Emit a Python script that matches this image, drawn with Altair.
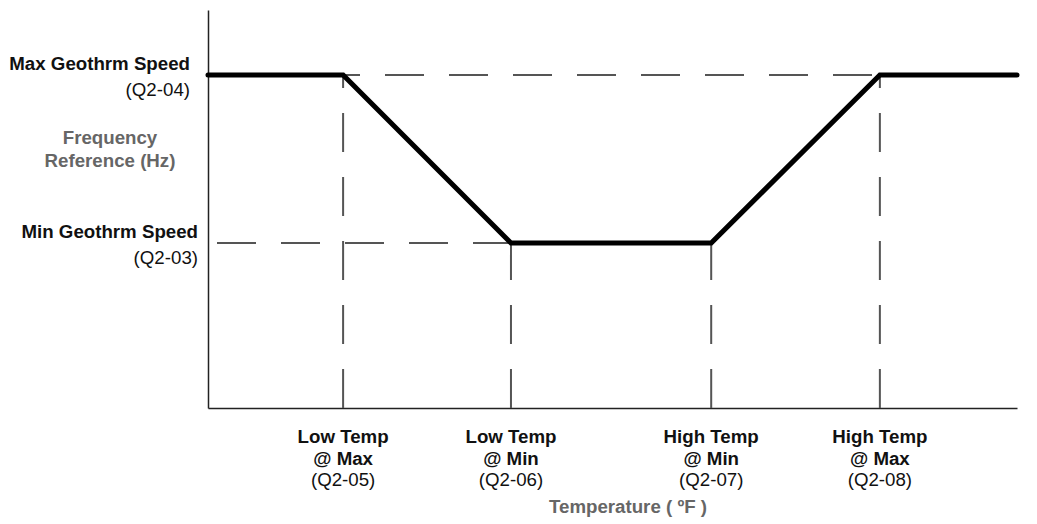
import altair as alt
import pandas as pd

# Temperature breakpoints (relative scale 0-100) and frequency levels (relative 0-100)
temp_points = [0, 16.7, 37.45, 62.2, 83.05, 100]
freq_points = [83.67, 83.67, 41.46, 41.46, 83.67, 83.67]
max_level = 83.67
min_level = 41.46
floor_level = 0

x_label_line1 = ["Low Temp", "Low Temp", "High Temp", "High Temp"]
x_label_line2 = ["@ Max", "@ Min", "@ Min", "@ Max"]
x_label_line3 = ["(Q2-05)", "(Q2-06)", "(Q2-07)", "(Q2-08)"]
x_label_pos = temp_points[1:5]
x_label_level = [max_level, min_level, min_level, max_level]

FONT = "Liberation Sans"
FS = 18.7
GRAY = "#666666"
DASH_COLOR = "#555555"

xs = alt.Scale(domain=[0, 100], nice=False, zero=False)
ys = alt.Scale(domain=[0, 100], nice=False, zero=False)

curve = pd.DataFrame({"t": temp_points, "f": freq_points, "o": list(range(len(temp_points)))})
labels = pd.DataFrame({"t": x_label_pos, "l1": x_label_line1, "l2": x_label_line2,
                       "l3": x_label_line3, "lvl": x_label_level,
                       "base": [floor_level] * len(x_label_pos)})

axis_x = alt.Axis(domain=True, ticks=False, labels=False, grid=False, title=None,
                  domainColor="#222222", domainWidth=1.5)
axis_y = alt.Axis(domain=True, ticks=False, labels=False, grid=False, title=None,
                  domainColor="#222222", domainWidth=1.5)

# vertical dashed guides
vguides = alt.Chart(labels).mark_rule(color=DASH_COLOR, strokeWidth=2, strokeDash=[39, 25]).encode(
    x=alt.X("t:Q", scale=xs, axis=axis_x),
    y=alt.Y("base:Q", scale=ys, axis=axis_y),
    y2="lvl:Q",
)

hmax = alt.Chart(pd.DataFrame({"a": [temp_points[0]], "b": [temp_points[4]], "lvl": [max_level]})).mark_rule(
    color=DASH_COLOR, strokeWidth=2, strokeDash=[39, 25], strokeDashOffset=15
).encode(
    x=alt.X("a:Q", scale=xs, axis=axis_x), x2="b:Q",
    y=alt.Y("lvl:Q", scale=ys, axis=axis_y),
)

hmin = alt.Chart(pd.DataFrame({"a": [temp_points[0]], "b": [temp_points[2]], "lvl": [min_level]})).mark_rule(
    color=DASH_COLOR, strokeWidth=2, strokeDash=[39, 25], strokeDashOffset=55
).encode(
    x=alt.X("a:Q", scale=xs, axis=axis_x), x2="b:Q",
    y=alt.Y("lvl:Q", scale=ys, axis=axis_y),
)

line = alt.Chart(curve).mark_line(color="#000000", strokeWidth=5, strokeCap="round",
                                  strokeJoin="miter").encode(
    x=alt.X("t:Q", scale=xs, axis=axis_x),
    y=alt.Y("f:Q", scale=ys, axis=axis_y),
    order="o:Q",
)


def xtext(field, ypx, bold):
    return alt.Chart(labels).mark_text(
        font=FONT, fontSize=FS, fontWeight="bold" if bold else "normal",
        color="#111111", align="center", baseline="alphabetic"
    ).encode(x=alt.X("t:Q", scale=xs, axis=axis_x), y=alt.value(ypx), text=f"{field}:N")


xt1 = xtext("l1", 433, True)
xt2 = xtext("l2", 455, True)
xt3 = xtext("l3", 476, False)

y_names = pd.DataFrame({"lvl": [max_level, min_level],
                        "name": ["Max Geothrm Speed", "Min Geothrm Speed"],
                        "code": ["(Q2-04)", "(Q2-03)"],
                        "which": ["max", "min"]})


def ytext(which, field, xpx, dy, bold):
    return alt.Chart(y_names[y_names.which == which]).mark_text(
        font=FONT, fontSize=FS, fontWeight="bold" if bold else "normal",
        color="#111111", align="right", baseline="alphabetic", dy=dy
    ).encode(x=alt.value(xpx), y=alt.Y("lvl:Q", scale=ys, axis=axis_y), text=f"{field}:N")


yt = [
    ytext("max", "name", -18, -5, True),
    ytext("max", "code", -18, 21, False),
    ytext("min", "name", -10, -5, True),
    ytext("min", "code", -10, 21, False),
]

ytitle1 = alt.Chart(pd.DataFrame({"txt": ["Frequency"]})).mark_text(
    font=FONT, fontSize=FS, fontWeight="bold", color=GRAY, align="center", baseline="alphabetic"
).encode(x=alt.value(-98), y=alt.value(134), text="txt:N")
ytitle2 = alt.Chart(pd.DataFrame({"txt": ["Reference (Hz)"]})).mark_text(
    font=FONT, fontSize=FS, fontWeight="bold", color=GRAY, align="center", baseline="alphabetic"
).encode(x=alt.value(-98), y=alt.value(157), text="txt:N")

xtitle = alt.Chart(pd.DataFrame({"txt": ["Temperature ( ºF )"]})).mark_text(
    font=FONT, fontSize=FS, fontWeight="bold", color=GRAY, align="center", baseline="alphabetic"
).encode(x=alt.value(420), y=alt.value(503), text="txt:N")

chart = alt.layer(vguides, hmax, hmin, line, xt1, xt2, xt3, *yt, ytitle1, ytitle2, xtitle).properties(
    width=809, height=398,
    padding={"left": 200, "top": 2, "right": 4, "bottom": 114},
    autosize=alt.AutoSizeParams(type="none"),
    background="white",
).configure_view(stroke=None)

chart.save("out.html", embed_options={"renderer": "svg", "actions": False})
